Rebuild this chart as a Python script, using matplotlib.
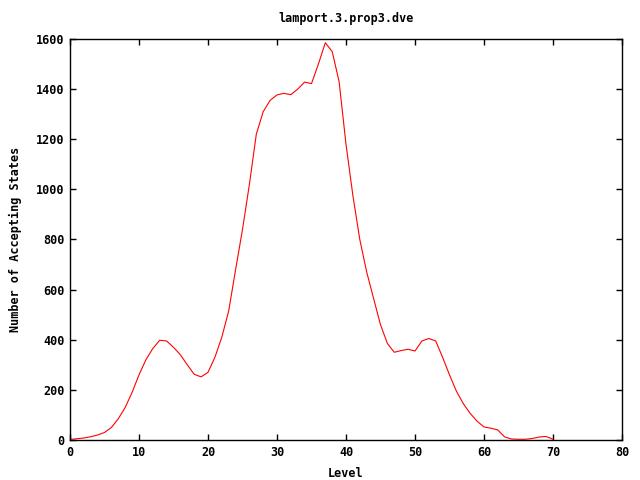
import numpy as np
import matplotlib.pyplot as plt

plt.rcParams['font.family'] = 'DejaVu Sans Mono'
plt.rcParams['font.weight'] = 'bold'
plt.rcParams['font.size'] = 8

plot_title = "lamport.3.prop3.dve"

levels = np.arange(0, 71)
accepting = [2, 5, 8, 13, 20, 30, 50, 85, 130, 190,
             260, 320, 365, 398, 395, 370, 340, 300, 262, 252,
             270, 330, 410, 515, 680, 840, 1020, 1220, 1310, 1355,
             1377, 1383, 1378, 1400, 1428, 1422, 1500, 1585, 1550, 1430,
             1180, 975, 800, 670, 565, 460, 385, 350, 357, 362,
             355, 395, 405, 395, 330, 260, 195, 145, 106, 75,
             52, 47, 40, 12, 4, 3, 3, 6, 12, 14,
             3]

fig = plt.figure(figsize=(6.4, 4.8), dpi=100)
ax = fig.add_axes([70/640, 40/480, 552/640, 401/480])

ax.plot(levels, accepting, color='#ff0000', lw=0.8)

ax.set_xlim(0, 80)
ax.set_ylim(0, 1600)
ax.set_xticks(np.arange(0, 81, 10))
ax.set_yticks(np.arange(0, 1601, 200))
ax.tick_params(direction='in', length=4, width=1, top=True, right=True,
               labelsize=8.5, pad=4)
for s in ax.spines.values():
    s.set_linewidth(1)

ax.set_title(plot_title, fontsize=8.5, fontweight='bold', pad=12)
ax.set_xlabel("Level", fontsize=8.5, fontweight='bold', labelpad=6)
ax.set_ylabel("Number of Accepting States", fontsize=8.5, fontweight='bold', labelpad=10)

fig.savefig('out.png', dpi=100)
